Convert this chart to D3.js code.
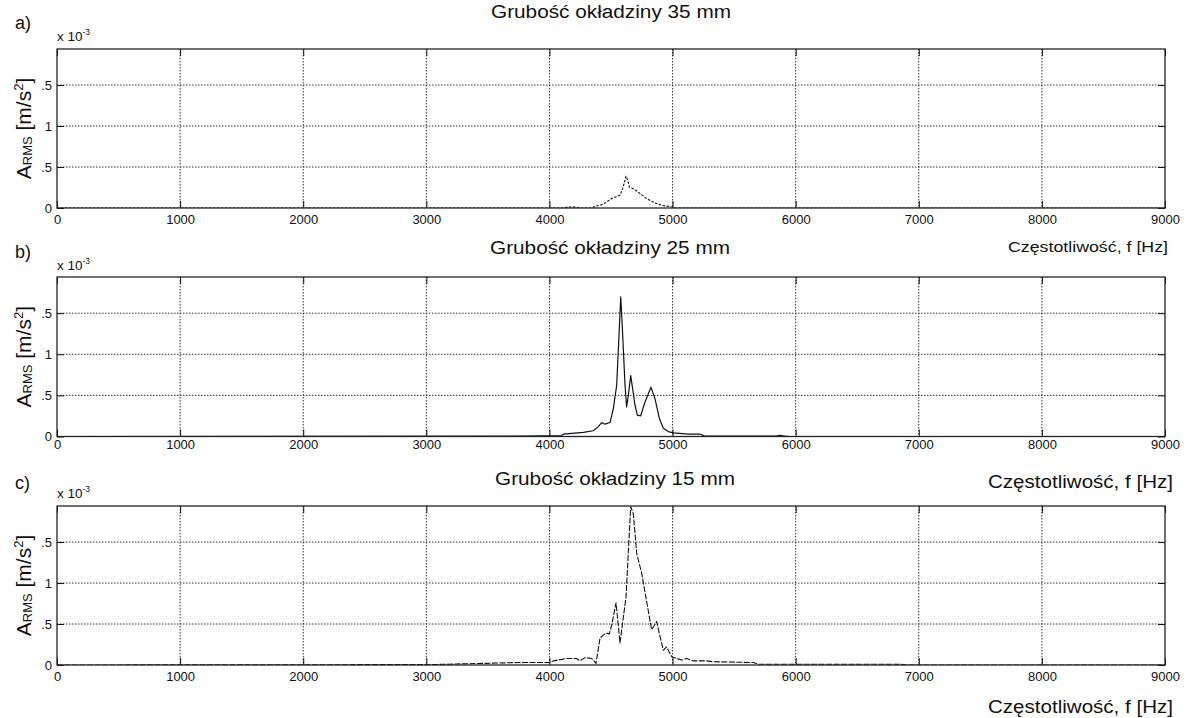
<!DOCTYPE html>
<html><head><meta charset="utf-8">
<script src="https://cdn.jsdelivr.net/npm/d3@7"></script>
<style>
html,body{margin:0;padding:0;background:#fff;}
svg{display:block;font-family:"Liberation Sans",Arial,sans-serif;}
</style></head><body>
<svg id="chart" width="1188" height="718"></svg>
<script>
// ---------- data (amplitude in 1e-3 m/s^2, frequency in Hz) ----------
const titles = ["Grubość okładziny 35 mm", "Grubość okładziny 25 mm", "Grubość okładziny 15 mm"];
const panelLetters = ["a)", "b)", "c)"];
const xAxisLabel = "Częstotliwość, f [Hz]";
const xTicks = [0, 1000, 2000, 3000, 4000, 5000, 6000, 7000, 8000, 9000];
const xTickLabels = ["0", "1000", "2000", "3000", "4000", "5000", "6000", "7000", "8000", "9000"];
const yTicks = [0, 0.5, 1, 1.5];
const yTickLabels = ["0", ".5", "1", ".5"];

const freq35 = [0, 4120, 4150, 4220, 4250, 4345, 4370, 4411, 4451, 4505, 4573, 4595, 4622, 4636, 4649, 4695, 4736, 4790, 4857, 4912, 4966, 4993, 5020, 9000];
const amp35  = [0, 0, 0.012, 0.010, 0, 0, 0.02, 0.033, 0.06, 0.115, 0.155, 0.236, 0.388, 0.337, 0.256, 0.224, 0.175, 0.114, 0.061, 0.033, 0.02, 0.012, 0, 0];

const freq25 = [0, 3750, 4100, 4113, 4275, 4356, 4397, 4424, 4451, 4492, 4519, 4546, 4565, 4579, 4595, 4614, 4627, 4641, 4660, 4676, 4695, 4714, 4741, 4776, 4825, 4857, 4893, 4925, 4966, 5006, 5130, 5223, 5260, 5840, 5870, 5910, 5950, 9000];
const amp25  = [0, 0.005, 0.012, 0.03, 0.05, 0.07, 0.12, 0.17, 0.15, 0.17, 0.34, 0.62, 1.23, 1.70, 1.23, 0.62, 0.36, 0.50, 0.74, 0.58, 0.38, 0.26, 0.25, 0.42, 0.60, 0.46, 0.22, 0.10, 0.06, 0.045, 0.03, 0.03, 0.005, 0.005, 0.015, 0.005, 0, 0];

const freq15 = [0, 3050, 3747, 4000, 4032, 4140, 4221, 4248, 4289, 4343, 4378, 4411, 4459, 4486, 4505, 4541, 4573, 4622, 4660, 4681, 4709, 4749, 4830, 4871, 4898, 4925, 4952, 4993, 5034, 5074, 5115, 5169, 5277, 5331, 5656, 5700, 6850, 6900, 9000];
const amp15  = [0, 0.005, 0.03, 0.03, 0.05, 0.08, 0.08, 0.05, 0.09, 0.08, 0.02, 0.33, 0.39, 0.38, 0.48, 0.76, 0.27, 0.83, 1.93, 1.85, 1.36, 1.12, 0.43, 0.53, 0.35, 0.18, 0.22, 0.10, 0.08, 0.06, 0.08, 0.05, 0.05, 0.04, 0.03, 0.01, 0.01, 0, 0];

const seriesFreq = [freq35, freq25, freq15];
const seriesAmp = [amp35, amp25, amp15];

// ---------- layout ----------
const layout = [
  {top: 49, bottom: 208, titleX: 611, titleY: 18, letterY: 29, expY: 41, tickPad: 16, xlabX: 1168, xlabY: 252, xlabSize: 15, xlabLen: 160, dash: "2.5,1.5", lw: 1.1},
  {top: 277, bottom: 436.5, titleX: 610, titleY: 254, letterY: 258, expY: 270, tickPad: 12.5, xlabX: 1173, xlabY: 488, xlabSize: 18, xlabLen: 185, dash: null, lw: 1.2},
  {top: 506, bottom: 665, titleX: 615, titleY: 485, letterY: 489, expY: 498, tickPad: 15.5, xlabX: 1173, xlabY: 713, xlabSize: 18, xlabLen: 185, dash: "6,1.5", lw: 1.1}
];
const left = 57, right = 1165;

const svg = d3.select("#chart");
const x = d3.scaleLinear().domain([0, 9000]).range([left, right]);

layout.forEach((L, i) => {
  const y = d3.scaleLinear().domain([0, 1.94]).range([L.bottom, L.top]);
  const g = svg.append("g");
  const h = L.bottom - L.top;

  const cid = "clip" + i;
  svg.append("clipPath").attr("id", cid).append("rect")
    .attr("x", left).attr("y", L.top).attr("width", right - left).attr("height", h);

  // grid lines
  g.append("g").selectAll("line").data(xTicks.slice(1, -1)).join("line")
    .attr("x1", d => x(d)).attr("x2", d => x(d))
    .attr("y1", L.top).attr("y2", L.bottom)
    .attr("stroke", "#333").attr("stroke-width", 1).attr("stroke-dasharray", "1.5,1.5");
  g.append("g").selectAll("line").data(yTicks.slice(1)).join("line")
    .attr("x1", left).attr("x2", right)
    .attr("y1", d => y(d)).attr("y2", d => y(d))
    .attr("stroke", "#333").attr("stroke-width", 1).attr("stroke-dasharray", "1.5,1.5");

  // inner ticks on all sides
  const tk = 7;
  const axB = g.append("g").attr("transform", `translate(0,${L.bottom})`)
    .call(d3.axisBottom(x).tickValues(xTicks).tickSize(-tk).tickFormat(""));
  const axT = g.append("g").attr("transform", `translate(0,${L.top})`)
    .call(d3.axisTop(x).tickValues(xTicks).tickSize(-tk).tickFormat(""));
  const axL = g.append("g").attr("transform", `translate(${left},0)`)
    .call(d3.axisLeft(y).tickValues(yTicks).tickSize(-tk).tickFormat(""));
  const axR = g.append("g").attr("transform", `translate(${right},0)`)
    .call(d3.axisRight(y).tickValues(yTicks).tickSize(-tk).tickFormat(""));
  [axB, axT, axL, axR].forEach(a => { a.select(".domain").remove(); a.selectAll("line").attr("stroke", "#111"); });

  // tick labels (x)
  const lx = g.append("g").attr("transform", `translate(0,${L.bottom})`)
    .call(d3.axisBottom(x).tickValues(xTicks).tickFormat((d, k) => xTickLabels[k]).tickSize(0).tickPadding(L.tickPad));
  lx.select(".domain").remove();
  lx.selectAll("text").attr("dy", 0).attr("font-size", 13).attr("fill", "#111")
    .attr("font-family", "'Liberation Sans', Arial, sans-serif");

  // tick labels (y)
  const ly = g.append("g").attr("transform", `translate(${left},0)`)
    .call(d3.axisLeft(y).tickValues(yTicks).tickFormat((d, k) => yTickLabels[k]).tickSize(0).tickPadding(5));
  ly.select(".domain").remove();
  ly.selectAll("text").attr("font-size", 13).attr("fill", "#111")
    .attr("font-family", "'Liberation Sans', Arial, sans-serif");

  // data line
  const pts = seriesFreq[i].map((f, k) => [f, seriesAmp[i][k]]);
  const line = d3.line().x(d => x(d[0])).y(d => y(d[1]));
  g.append("path").datum(pts).attr("d", line)
    .attr("clip-path", `url(#${cid})`)
    .attr("fill", "none").attr("stroke", "#111").attr("stroke-width", L.lw)
    .attr("stroke-linejoin", "round")
    .attr("stroke-dasharray", L.dash);

  // box
  g.append("rect").attr("x", left).attr("y", L.top).attr("width", right - left).attr("height", h)
    .attr("fill", "none").attr("stroke", "#222").attr("stroke-width", 1.3);

  // title
  g.append("text").attr("x", L.titleX).attr("y", L.titleY).attr("text-anchor", "middle")
    .attr("font-size", 18).attr("fill", "#111")
    .attr("textLength", 240).attr("lengthAdjust", "spacingAndGlyphs")
    .text(titles[i]);

  // panel letter
  g.append("text").attr("x", 15).attr("y", L.letterY).attr("font-size", 18).attr("fill", "#111")
    .text(panelLetters[i]);

  // exponent
  const ex = g.append("text").attr("x", left).attr("y", L.expY).attr("font-size", 13.5).attr("fill", "#111");
  ex.append("tspan").text("x 10");
  ex.append("tspan").attr("font-size", 8.5).attr("dy", -6).text("-3");

  // y label
  const yl = g.append("text")
    .attr("transform", `translate(31,${(L.top + L.bottom) / 2}) rotate(-90)`)
    .attr("text-anchor", "middle").attr("font-size", 21).attr("fill", "#111");
  yl.append("tspan").text("A");
  yl.append("tspan").attr("font-size", 13).attr("dy", 1).text("RMS");
  yl.append("tspan").attr("dy", -1).text(" [m/s");
  yl.append("tspan").attr("font-size", 13).attr("dy", -8).text("2");
  yl.append("tspan").attr("dy", 8).text("]");

  // x label
  g.append("text").attr("x", L.xlabX).attr("y", L.xlabY).attr("text-anchor", "end")
    .attr("font-size", L.xlabSize).attr("fill", "#111")
    .attr("textLength", L.xlabLen).attr("lengthAdjust", "spacingAndGlyphs")
    .text(xAxisLabel);
});
</script>
</body></html>
